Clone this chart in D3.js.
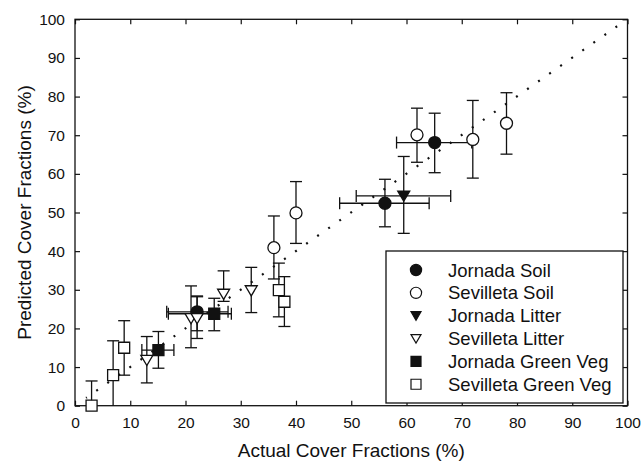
<!DOCTYPE html>
<html>
<head>
    <meta charset="UTF-8">
    <title>Predicted vs Actual Cover Fractions</title>
    <style>
        body { margin: 0; background: #fff; }
        svg { display: block; font-family: "Liberation Sans", Arial, sans-serif; }
    </style>
</head>
<body>
    <div id="chart"></div>
    <script src="https://cdn.jsdelivr.net/npm/d3@7"></script>
    <script>

    // data: x = actual, y = predicted, with error ranges
    const jornadaSoil = [
        {x: 22.1, y: 24.3, yLo: 19.4, yHi: 28.4, xLo: 16.6, xHi: 27.7},
        {x: 56.1, y: 52.4, yLo: 46.3, yHi: 58.6, xLo: 47.9, xHi: 64.1},
        {x: 65.1, y: 68.1, yLo: 60.3, yHi: 75.7, xLo: 58.2, xHi: 71.8}
    ];
    const sevilletaSoil = [
        {x: 36.0, y: 40.9, yLo: 32.8, yHi: 49.1},
        {x: 40.0, y: 49.9, yLo: 42.0, yHi: 58.0},
        {x: 61.9, y: 70.1, yLo: 63.0, yHi: 77.0},
        {x: 72.0, y: 68.9, yLo: 58.9, yHi: 79.0},
        {x: 78.1, y: 73.1, yLo: 65.1, yHi: 81.0}
    ];
    const jornadaLitter = [
        {x: 59.5, y: 54.3, yLo: 44.6, yHi: 64.5, xLo: 50.9, xHi: 68.0}
    ];
    const sevilletaLitter = [
        {x: 13.0, y: 11.8, yLo: 5.9, yHi: 17.9},
        {x: 21.0, y: 22.6, yLo: 15.0, yHi: 31.0},
        {x: 22.1, y: 22.6, yLo: 17.4, yHi: 28.2},
        {x: 26.9, y: 28.9, yLo: 27.0, yHi: 34.9},
        {x: 31.9, y: 29.8, yLo: 24.1, yHi: 35.8}
    ];
    const jornadaGreen = [
        {x: 15.1, y: 14.4, yLo: 9.7, yHi: 19.2, xLo: 12.1, xHi: 17.9},
        {x: 25.2, y: 23.8, yLo: 19.4, yHi: 27.8, xLo: 16.9, xHi: 28.3}
    ];
    const sevilletaGreen = [
        {x: 3.0, y: 0.0, yLo: 0.0, yHi: 6.4},
        {x: 6.9, y: 7.9, yLo: 0.0, yHi: 16.8},
        {x: 8.9, y: 15.0, yLo: 7.9, yHi: 22.0},
        {x: 36.9, y: 29.9, yLo: 23.0, yHi: 36.9},
        {x: 37.9, y: 26.9, yLo: 20.5, yHi: 33.4}
    ];

    const seriesNames = ["Jornada Soil", "Sevilleta Soil", "Jornada Litter",
        "Sevilleta Litter", "Jornada Green Veg", "Sevilleta Green Veg"];
    const seriesData = [jornadaSoil, sevilletaSoil, jornadaLitter,
        sevilletaLitter, jornadaGreen, sevilletaGreen];
    const seriesShape = ["circle", "circle", "triangle", "triangle", "square", "square"];
    const seriesFilled = [true, false, true, false, true, false];

    const tickValues = [0, 10, 20, 30, 40, 50, 60, 70, 80, 90, 100];
    const oneToOne = [2, 98];   // ends of the dotted 1:1 line

    const W = 644, H = 462;
    const margin = {top: 19.3, right: 16.5, bottom: 56.3, left: 75};
    const width = W - margin.left - margin.right,
        height = H - margin.top - margin.bottom;
    const ink = "#111";

    const svg = d3.select("#chart").append("svg")
        .attr("width", W)
        .attr("height", H);
    svg.append("rect").attr("width", W).attr("height", H).attr("fill", "#fff");

    const g = svg.append("g")
        .attr("transform", `translate(${margin.left},${margin.top})`);

    const x = d3.scaleLinear().domain([0, 100]).range([0, width]);
    const y = d3.scaleLinear().domain([0, 100]).range([height, 0]);

    // axes, ticks pointing inward on all four sides
    function styleAxis(sel) {
        sel.select(".domain").remove();
        sel.selectAll(".tick line").attr("stroke", ink).attr("stroke-width", 1.2);
        sel.selectAll("text").attr("fill", ink).style("font-size", "15.5px")
            .style("font-family", "'Liberation Sans', Arial, sans-serif");
    }
    g.append("g").attr("transform", `translate(0,${height})`)
        .call(d3.axisBottom(x).tickValues(tickValues).tickSize(-5).tickPadding(11))
        .call(styleAxis);
    g.append("g")
        .call(d3.axisLeft(y).tickValues(tickValues).tickSize(-5).tickPadding(10))
        .call(styleAxis);
    g.append("g")
        .call(d3.axisTop(x).tickValues(tickValues).tickSize(-5).tickFormat(""))
        .call(styleAxis);
    g.append("g").attr("transform", `translate(${width},0)`)
        .call(d3.axisRight(y).tickValues(tickValues).tickSize(-5).tickFormat(""))
        .call(styleAxis);

    g.append("rect")
        .attr("width", width).attr("height", height)
        .attr("fill", "none").attr("stroke", ink).attr("stroke-width", 1.3);

    // dotted 1:1 line, a dot every 2 %
    const segLen = Math.hypot(x(2) - x(0), y(0) - y(2));
    g.append("line")
        .attr("x1", x(oneToOne[0])).attr("y1", y(oneToOne[0]))
        .attr("x2", x(oneToOne[1]) + 1).attr("y2", y(oneToOne[1]) - 1)
        .attr("stroke", ink)
        .attr("stroke-width", 2.2)
        .attr("stroke-dasharray", `2,${segLen - 2}`)
        .attr("stroke-dashoffset", 1);

    // error bars
    const cap = 6;
    const bars = g.append("g").attr("stroke", ink).attr("stroke-width", 1.3).attr("fill", "none");
    seriesData.forEach(data => {
        data.forEach(d => {
            bars.append("line")
                .attr("x1", x(d.x)).attr("x2", x(d.x))
                .attr("y1", y(d.yLo)).attr("y2", y(d.yHi));
            [d.yLo, d.yHi].forEach(v => {
                if (v <= 0) return;
                bars.append("line")
                    .attr("x1", x(d.x) - cap).attr("x2", x(d.x) + cap)
                    .attr("y1", y(v)).attr("y2", y(v));
            });
            if (d.xLo !== undefined) {
                bars.append("line")
                    .attr("x1", x(d.xLo)).attr("x2", x(d.xHi))
                    .attr("y1", y(d.y)).attr("y2", y(d.y));
                [d.xLo, d.xHi].forEach(v => {
                    bars.append("line")
                        .attr("x1", x(v)).attr("x2", x(v))
                        .attr("y1", y(d.y) - cap).attr("y2", y(d.y) + cap);
                });
            }
        });
    });

    // marker shapes
    const symbolPath = {
        circle: r => d3.symbol(d3.symbolCircle, Math.PI * r * r)(),
        square: r => `M${-r},${-r}H${r}V${r}H${-r}Z`,
        triangle: r => `M${-r},${-r * 0.8}H${r}L0,${r * 0.9}Z`
    };
    const symbolSize = {circle: 6, square: 5.5, triangle: 6};

    seriesData.forEach((data, i) => {
        const shape = seriesShape[i];
        g.append("g").selectAll("path")
            .data(data)
            .join("path")
            .attr("transform", d => `translate(${x(d.x)},${y(d.y)})`)
            .attr("d", symbolPath[shape](symbolSize[shape]))
            .attr("fill", seriesFilled[i] ? ink : "#fff")
            .attr("stroke", ink)
            .attr("stroke-width", 1.3);
    });

    // legend
    const legend = svg.append("g");
    legend.append("rect")
        .attr("x", 386).attr("y", 251)
        .attr("width", 237).attr("height", 152)
        .attr("fill", "#fff").attr("stroke", ink).attr("stroke-width", 1.3);

    const legendSize = {circle: 5.6, square: 5, triangle: 5};
    seriesNames.forEach((name, i) => {
        const cy = 270 + i * 22.85;
        const shape = seriesShape[i];
        legend.append("path")
            .attr("transform", `translate(416,${cy})`)
            .attr("d", symbolPath[shape](legendSize[shape]))
            .attr("fill", seriesFilled[i] ? ink : "#fff")
            .attr("stroke", ink)
            .attr("stroke-width", 1.2);
        legend.append("text")
            .attr("x", 448).attr("y", cy + 6.5)
            .attr("fill", ink)
            .style("font-size", "18.5px")
            .text(name);
    });

    // axis titles
    svg.append("text")
        .attr("x", margin.left + width / 2).attr("y", 457)
        .attr("text-anchor", "middle")
        .attr("fill", ink)
        .style("font-size", "19px")
        .text("Actual Cover Fractions (%)");

    svg.append("text")
        .attr("transform", `translate(31,${margin.top + height / 2}) rotate(-90)`)
        .attr("text-anchor", "middle")
        .attr("fill", ink)
        .style("font-size", "19px")
        .text("Predicted Cover Fractions (%)");

    </script>
</body>
</html>
